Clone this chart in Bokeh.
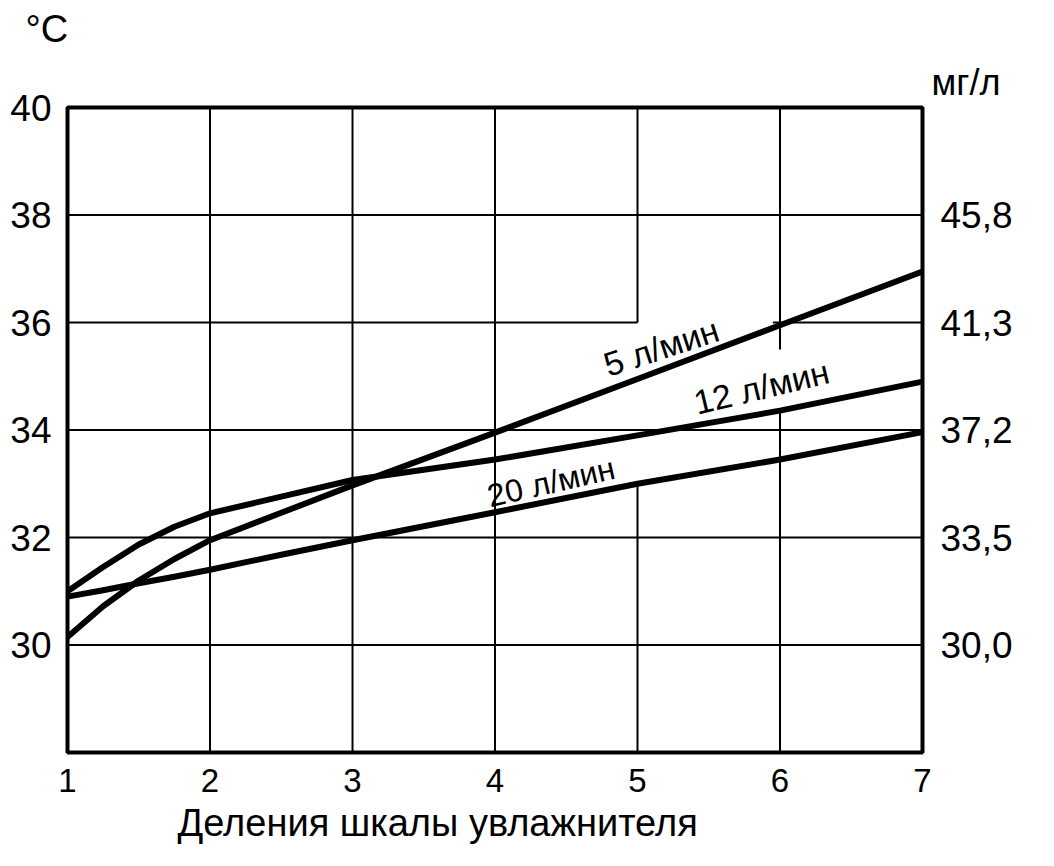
from bokeh.plotting import figure
from bokeh.models import LinearAxis, FixedTicker, Label, Range1d, Title
from bokeh.embed import file_html
from bokeh.resources import INLINE

# ---- data ----
divisions = [1, 1.25, 1.5, 1.75, 2, 2.5, 3, 4, 5, 6, 7]
t_5_lmin = [30.15, 30.72, 31.2, 31.6, 31.95, 32.46, 32.97, 33.95, 34.95, 35.95, 36.95]
t_12_lmin = [31.0, 31.45, 31.87, 32.2, 32.45, 32.76, 33.07, 33.45, 33.9, 34.36, 34.9]
t_20_lmin = [30.9, 31.02, 31.15, 31.27, 31.4, 31.68, 31.95, 32.47, 33.0, 33.45, 33.96]
series_names = ["5 л/мин", "12 л/мин", "20 л/мин"]

x_ticks = [1, 2, 3, 4, 5, 6, 7]
left_ticks = [30, 32, 34, 36, 38, 40]
right_ticks = [30, 32, 34, 36, 38]
right_labels = ["30,0", "33,5", "37,2", "41,3", "45,8"]
grid_x = [2, 3, 4, 5, 6]
grid_y = [30, 32, 34, 36, 38]

x_title = "Деления шкалы  увлажнителя"
left_unit = "°C"
right_unit = "мг/л"

FONT = "Liberation Sans"

p = figure(width=1038, height=850, x_range=Range1d(1, 7), y_range=Range1d(28, 40),
           output_backend="svg", toolbar_location=None,
           min_border_left=67, min_border_right=116, min_border_top=107, min_border_bottom=98)
p.grid.visible = False
p.background_fill_color = "white"
p.border_fill_color = "white"
p.outline_line_color = "black"
p.outline_line_width = 4

for ax in [p.xaxis[0], p.yaxis[0]]:
    ax.axis_line_color = None
    ax.major_tick_line_color = None
    ax.minor_tick_line_color = None
    ax.major_label_text_font = FONT
    ax.major_label_text_color = "black"

p.xaxis.ticker = FixedTicker(ticks=x_ticks)
p.xaxis.major_label_text_font_size = "33px"
p.xaxis.major_label_standoff = 10
p.yaxis.ticker = FixedTicker(ticks=left_ticks)
p.yaxis.major_label_text_font_size = "37px"
p.yaxis.major_label_standoff = 10

ry = LinearAxis(ticker=FixedTicker(ticks=right_ticks),
                major_label_overrides={t: l for t, l in zip(right_ticks, right_labels)})
ry.axis_line_color = None
ry.major_tick_line_color = None
ry.minor_tick_line_color = None
ry.major_label_text_font = FONT
ry.major_label_text_font_size = "37px"
ry.major_label_text_color = "black"
ry.major_label_standoff = 12
p.add_layout(ry, "right")

# grid lines (with the gaps left for the curve labels)
gaps_h = {36: [(5.0, 5.95)]}
gaps_v = {5: [(33.0, 36.0)], 6: [(34.4, 35.5)]}

def split(a, b, gaps):
    segs = []
    cur = a
    for g0, g1 in sorted(gaps):
        segs.append((cur, g0))
        cur = g1
    segs.append((cur, b))
    return segs

x0s, y0s, x1s, y1s = [], [], [], []
for gy in grid_y:
    for s0, s1 in split(1, 7, gaps_h.get(gy, [])):
        x0s.append(s0); x1s.append(s1); y0s.append(gy); y1s.append(gy)
for gx in grid_x:
    for s0, s1 in split(28, 40, gaps_v.get(gx, [])):
        x0s.append(gx); x1s.append(gx); y0s.append(s0); y1s.append(s1)
p.segment(x0s, y0s, x1s, y1s, line_color="black", line_width=2)

for ys in [t_5_lmin, t_12_lmin, t_20_lmin]:
    p.line(divisions, ys, line_color="black", line_width=6, line_join="round", line_cap="round")

label_pos = [(4.77, 35.2, 18, "34px"), (5.4, 34.5, 13.5, "34px"), (3.95, 32.76, 13, "32px")]
for name, (lx, ly, ang, fs) in zip(series_names, label_pos):
    p.add_layout(Label(x=lx, y=ly, text=name, angle=ang, angle_units="deg",
                       text_font=FONT, text_font_size=fs, text_color="black",
                       text_baseline="alphabetic", text_align="left"))

# texts outside the frame, as titles
p.add_layout(Title(text=right_unit, align="right", offset=-78, text_font=FONT,
                   text_font_size="36px", text_font_style="normal", text_color="black"), "above")
p.add_layout(Title(text=left_unit, align="left", offset=-42, text_font=FONT,
                   text_font_size="38px", text_font_style="normal", text_color="black"), "above")
p.add_layout(Title(text=x_title, align="left", offset=110, text_font=FONT,
                   text_font_size="38px", text_font_style="normal", text_color="black"), "below")

open("out.html", "w").write(file_html(p, INLINE))
